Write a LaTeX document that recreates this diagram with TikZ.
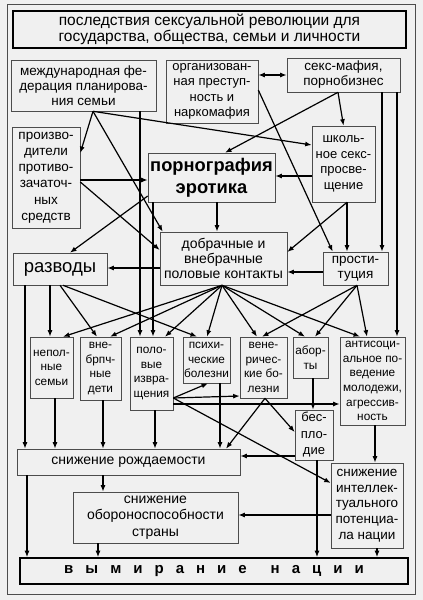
\documentclass[tikz,border=0pt]{standalone}
\usepackage{fontspec}
\setmainfont{Liberation Sans}
\usetikzlibrary{arrows.meta}

\begin{document}
\begin{tikzpicture}[x=1pt, y=-1pt,
    kasten/.style={draw=black!70, line width=0.6pt, inner sep=0pt, align=center, font=\fontsize{13.5}{15}\selectfont},
    uzkij/.style={kasten, font=\fontsize{11.8}{14.6}\selectfont},
    glavn/.style={kasten, draw=black, line width=1.6pt},
    razm/.style 2 args={minimum width=#1pt, minimum height=#2pt},
    strelka/.style={-{Latex[length=6.5pt,width=5pt]}, line width=1.2pt},
    dvustr/.style={{Latex[length=6.5pt,width=5pt]}-{Latex[length=6.5pt,width=5pt]}, line width=1.2pt}]
    \fill[black!6] (0,0) rectangle (423,600);
    \useasboundingbox (0,0) rectangle (423,600);
    \draw[black!70, line width=0.8pt] (7,4) rectangle (415,594);

    \node[glavn, razm={393}{37}, font=\fontsize{15.5}{16}\selectfont] (title) at (209.5,29.5) {последствия сексуальной революции для\\государства, общества, семьи и личности};
    \node[kasten, razm={145}{51}] (federation) at (83.5,85.5) {международная фе-\\дерация планирова-\\ния семьи};
    \node[kasten, razm={92}{63}, font=\fontsize{13}{15.5}\selectfont] (crime) at (212,91.5) {организован-\\ная преступ-\\ность и\\наркомафия};
    \node[kasten, razm={113}{34}] (mafia) at (343.5,75) {секс-мафия,\\порнобизнес};
    \node[kasten, razm={68}{101}, font=\fontsize{13.5}{16.2}\selectfont] (makers) at (46,177.5) {произво-\\дители\\противо-\\зачаточ-\\ных\\средств};
    \node[kasten, razm={127}{49}, font=\fontsize{18.3}{22}\selectfont\bfseries] (porn) at (211.5,177.5) {порнография\\эротика};
    \node[kasten, razm={63}{76}, font=\fontsize{13}{15.5}\selectfont] (school) at (343.5,164) {школь-\\ное секс-\\просве-\\щение};
    \node[kasten, razm={127}{53}, font=\fontsize{14}{15}\selectfont] (contacts) at (223.5,258.5) {добрачные и\\внебрачные\\половые контакты};
    \node[kasten, razm={94}{32}, font=\fontsize{18.5}{20}\selectfont] (divorce) at (60,269) {разводы};
    \node[kasten, razm={65}{33}] (prostit) at (355.5,268.5) {прости-\\туция};

    \node[uzkij, razm={43}{61}] (incomplete) at (51.5,367.5) {непол-\\ные\\семьи};
    \node[uzkij, razm={41}{63}] (illegit) at (100.5,368.5) {вне-\\брпч-\\ные\\дети};
    \node[uzkij, razm={43}{73}] (perversion) at (151.5,373.5) {поло-\\вые\\извра-\\щения};
    \node[uzkij, razm={47}{46}] (mental) at (206.5,360) {психи-\\ческие\\болезни};
    \node[uzkij, razm={47}{61}] (venereal) at (263.5,367.5) {вене-\\ричес-\\кие бо-\\лезни};
    \node[uzkij, razm={35}{41}] (abortion) at (310.5,357.5) {абор-\\ты};
    \node[uzkij, razm={65}{88}] (antisocial) at (372.5,381) {антисоци-\\альное по-\\ведение\\молодежи,\\агрессив-\\ность};

    \node[kasten, razm={38}{50}, font=\fontsize{13}{16.5}\selectfont] (sterility) at (314,435) {бес-\\пло-\\дие};
    \node[kasten, razm={223}{26}, font=\fontsize{14}{15}\selectfont] (birthrate) at (128.5,462) {снижение рождаемости};
    \node[kasten, razm={72}{85}, font=\fontsize{13.5}{15.7}\selectfont] (intellect) at (367,505.5) {снижение\\интеллек-\\туального\\потенциа-\\ла нации};
    \node[kasten, razm={165}{51}, font=\fontsize{14}{16.5}\selectfont] (defence) at (155.5,517.5) {снижение\\обороноспособности\\страны};
    \node[glavn, razm={388}{26}, font=\fontsize{15}{18}\selectfont\bfseries] (extinction) at (214,571) {\spaceskip=12pt\relax в ы м и р а н и е\hspace{12pt} н а ц и и};

    \draw[dvustr] ([yshift=16.5pt]crime.east) -- (mafia.west);
    \draw[strelka] ([xshift=9.5pt]federation.south) -- ([yshift=24.5pt]makers.east);
    \draw[strelka] ([xshift=9.5pt]federation.south) -- ([xshift=3pt]contacts.north west);
    \draw[strelka] ([xshift=9.5pt]federation.south) -- ([yshift=19pt]school.west);
    \draw[strelka] ([xshift=56.5pt]federation.south) -- ([xshift=-11.5pt]perversion.north);
    \draw[strelka] ([yshift=1.5pt]crime.east) -- ([xshift=10pt]prostit.north west);
    \draw[strelka] ([xshift=-5.5pt]mafia.south) -- (school.north);
    \draw[strelka] ([xshift=-5.5pt]mafia.south) -- ([xshift=13.5pt]porn.north);
    \draw[strelka] ([xshift=38.5pt]mafia.south) -- ([xshift=26.5pt]prostit.north);
    \draw[strelka] ([xshift=53.5pt]mafia.south) -- ([xshift=24.5pt]antisocial.north);
    \draw[strelka] ([yshift=-2.5pt]makers.east) -- ([yshift=-2.5pt]porn.west);
    \draw[strelka] ([yshift=-4.5pt]makers.east) -- ([yshift=8.5pt]contacts.west);
    \draw[strelka] ([yshift=-18.5pt]porn.west) -- ([xshift=10pt]divorce.north);
    \draw[strelka] ([xshift=5.5pt]porn.south) -- ([xshift=-6.5pt]contacts.north);
    \draw[strelka] ([xshift=-58.5pt]porn.south) -- ([xshift=1.5pt]perversion.north);
    \draw[strelka] ([yshift=-12pt]school.west) -- ([yshift=1.5pt]porn.east);
    \draw[strelka] ([xshift=3.5pt]school.south) -- ([yshift=6.5pt]contacts.east);
    \draw[strelka] ([xshift=3.5pt]school.south) -- ([xshift=-8.5pt]prostit.north);
    \draw[strelka] ([yshift=-3.5pt]prostit.west) -- ([yshift=-13.5pt]contacts.east);
    \draw[strelka] ([yshift=-9.5pt]contacts.west) -- ([yshift=1pt]divorce.east);

    \draw[strelka] ([xshift=-10pt]divorce.south) -- ([xshift=-1.5pt]incomplete.north);
    \draw[strelka] (divorce.south) -- ([xshift=-3.5pt]illegit.north);
    \draw[strelka] ([xshift=3pt]divorce.south) -- ([xshift=-9.5pt]mental.north);
    \draw[strelka] ([xshift=-35pt]divorce.south) -- ([xshift=-103.5pt]birthrate.north);
    \draw[strelka] ([xshift=-1.5pt]contacts.south) -- ([xshift=11.5pt]incomplete.north);
    \draw[strelka] ([xshift=-1.5pt]contacts.south) -- ([xshift=9.5pt]illegit.north);
    \draw[strelka] ([xshift=-1.5pt]contacts.south) -- ([xshift=13.5pt]perversion.north);
    \draw[strelka] ([xshift=-1.5pt]contacts.south) -- ([xshift=0.5pt]mental.north);
    \draw[strelka] ([xshift=-1.5pt]contacts.south) -- ([xshift=-6.5pt]venereal.north);
    \draw[strelka] ([xshift=-1.5pt]contacts.south) -- ([xshift=-5.5pt]abortion.north);
    \draw[strelka] ([xshift=-1.5pt]contacts.south) -- ([xshift=-12.5pt]antisocial.north);
    \draw[strelka] ([xshift=1.5pt]prostit.south) -- ([xshift=-1.5pt]venereal.north);
    \draw[strelka] ([xshift=1.5pt]prostit.south) -- ([xshift=4.5pt]abortion.north);
    \draw[strelka] ([xshift=1.5pt]prostit.south) -- ([xshift=-5.5pt]antisocial.north);

    \draw[strelka] ([xshift=3.5pt]incomplete.south) -- ([xshift=-73.5pt]birthrate.north);
    \draw[strelka] ([xshift=2.5pt]illegit.south) -- ([xshift=-25.5pt]birthrate.north);
    \draw[strelka] ([xshift=3.5pt]perversion.south) -- ([xshift=26.5pt]birthrate.north);
    \draw[strelka] ([yshift=-24.5pt]perversion.east) -- ([xshift=1.5pt]mental.south);
    \draw[strelka] ([yshift=-24.5pt]perversion.east) -- ([yshift=-28.5pt]venereal.west);
    \draw[strelka] ([yshift=-24.5pt]perversion.east) -- ([yshift=22.5pt]intellect.west);
    \draw[strelka] ([yshift=-30.5pt]perversion.east) -- ([yshift=-23pt]antisocial.west);
    \draw[strelka] ([xshift=13.5pt]mental.south) -- ([xshift=91.5pt]birthrate.north);
    \draw[strelka] ([xshift=1.5pt]venereal.south) -- ([xshift=97.5pt]birthrate.north);
    \draw[strelka] ([xshift=1.5pt]venereal.south) -- ([yshift=3pt]sterility.west);
    \draw[strelka] ([xshift=2.5pt]abortion.south) -- ([xshift=-1pt]sterility.north);
    \draw[strelka] ([yshift=-21pt]sterility.west) -- ([yshift=6pt]birthrate.east);
    \draw[strelka] ([xshift=3pt]sterility.south) -- ([xshift=103pt]extinction.north);
    \draw[strelka] ([xshift=2.5pt]antisocial.south) -- ([xshift=8pt]intellect.north);
    \draw[strelka] ([yshift=-9.5pt]intellect.west) -- ([yshift=2.5pt]defence.east);
    \draw[strelka] ([xshift=10pt]intellect.south) -- ([xshift=163pt]extinction.north);
    \draw[strelka] ([xshift=-25.5pt]birthrate.south) -- ([xshift=-52.5pt]defence.north);
    \draw[strelka] ([xshift=-101.5pt]birthrate.south) -- ([xshift=-187pt]extinction.north);
    \draw[strelka] ([xshift=-57.5pt]defence.south) -- ([xshift=-116pt]extinction.north);
\end{tikzpicture}
\end{document}
